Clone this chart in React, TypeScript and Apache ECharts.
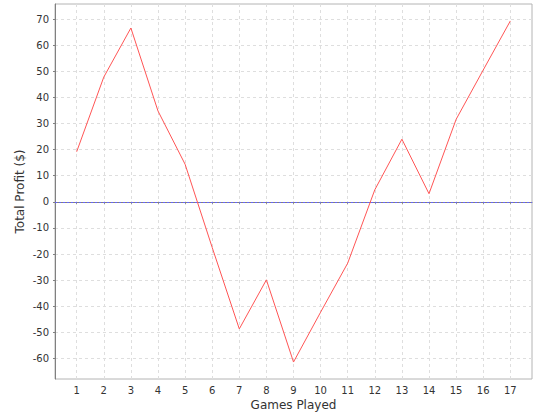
import React, { useEffect, useRef } from "react";
import * as echarts from "echarts";

const games = [1, 2, 3, 4, 5, 6, 7, 8, 9, 10, 11, 12, 13, 14, 15, 16, 17];
const profit = [19.2, 47.8, 66.6, 34.8, 14.4, -17.5, -48.7, -29.9, -61.4, -42.3, -23.5, 4.6, 24.0, 3.1, 31.6, 50.5, 69.3];
const xTicks = [1, 2, 3, 4, 5, 6, 7, 8, 9, 10, 11, 12, 13, 14, 15, 16, 17];
const yTicks = [-60, -50, -40, -30, -20, -10, 0, 10, 20, 30, 40, 50, 60, 70];
const xRange = [0.2, 17.8];
const yRange = [-67.9, 75.8];
const zeroValue = 0;

export default function App() {
  const ref = useRef<HTMLDivElement>(null);
  useEffect(() => {
    if (!ref.current) return;
    const chart = echarts.init(ref.current, null, { renderer: "svg" });
    const font = "'DejaVu Sans', sans-serif";
    chart.setOption({
      animation: false,
      backgroundColor: "#ffffff",
      grid: {
        left: 55,
        top: 4,
        right: 8,
        bottom: 41,
        show: true,
        borderColor: "#b4b4b4",
        borderWidth: 1,
        backgroundColor: "#ffffff",
      },
      xAxis: {
        type: "value",
        min: xRange[0],
        max: xRange[1],
        name: "Games Played",
        nameLocation: "middle",
        nameGap: 20,
        nameMoveOverlap: false,
        nameTextStyle: { fontFamily: font, fontSize: 12, color: "#333333" },
        axisLine: { show: true, lineStyle: { color: "#808080", width: 1 } },
        axisTick: { show: true, length: 2, lineStyle: { color: "#808080" }, customValues: xTicks },
        axisLabel: { customValues: xTicks, margin: 6, fontFamily: font, fontSize: 10, color: "#333333" },
        splitLine: { show: true, lineStyle: { color: "#dedede", type: [3, 3], width: 1 } },
      },
      yAxis: {
        type: "value",
        min: yRange[0],
        max: yRange[1],
        name: "Total Profit ($)",
        nameLocation: "middle",
        nameGap: 29,
        nameMoveOverlap: false,
        nameTextStyle: { fontFamily: font, fontSize: 12, color: "#333333" },
        axisLine: { show: true, lineStyle: { color: "#808080", width: 1 } },
        axisTick: { show: true, length: 2, lineStyle: { color: "#808080" }, customValues: yTicks },
        axisLabel: { customValues: yTicks, margin: 6, fontFamily: font, fontSize: 10, color: "#333333" },
        splitLine: { show: true, lineStyle: { color: "#dedede", type: [3, 3], width: 1 } },
      },
      series: [
        {
          type: "line",
          data: games.map((g, i) => [g, profit[i]]),
          showSymbol: false,
          symbol: "none",
          lineStyle: { color: "#ff5555", width: 1 },
          markLine: {
            silent: true,
            symbol: "none",
            label: { show: false },
            lineStyle: { color: "#6464ff", type: [2, 2], width: 1 },
            data: [{ yAxis: zeroValue }],
          },
        },
      ],
    });
    return () => chart.dispose();
  }, []);
  return <div ref={ref} style={{ position: "absolute", left: 0, top: 0, width: 540, height: 420 }} />;
}
